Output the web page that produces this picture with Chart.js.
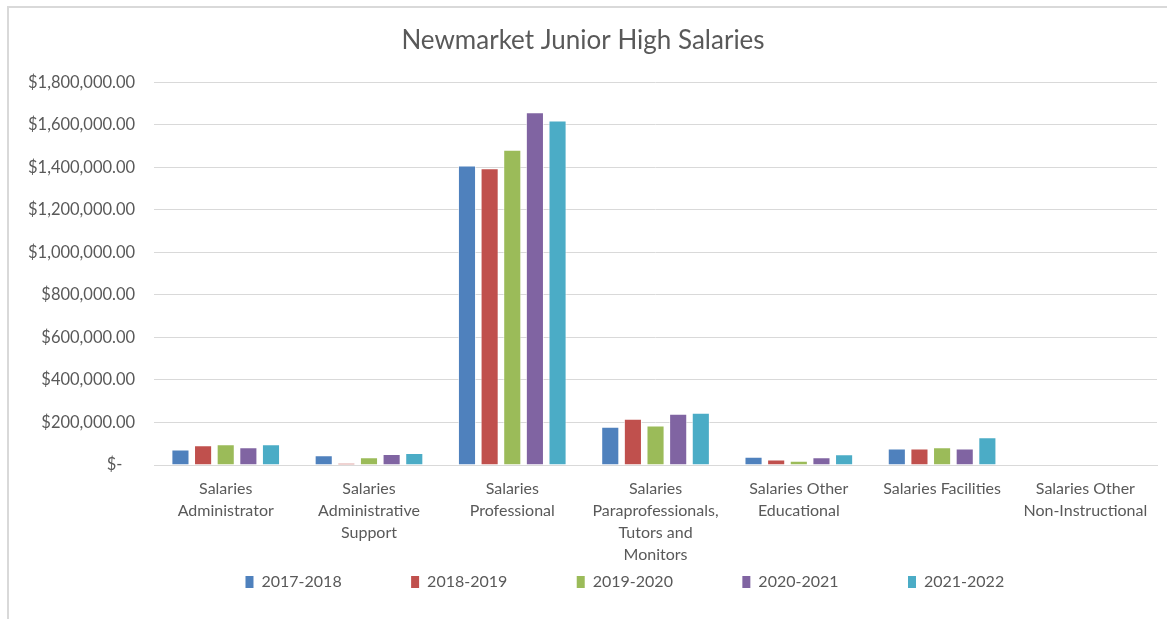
<!DOCTYPE html>
<html>
<head>
<meta charset="utf-8">
<script src="https://cdn.jsdelivr.net/npm/chart.js@4"></script>
<style>
  html, body { margin: 0; padding: 0; background: #fff; overflow: hidden; }
  #wrap { position: absolute; left: 7px; top: 6px; width: 1172px; height: 620px; border: 1px solid #d9d9d9; border-width: 2px 0 0 2px; box-sizing: border-box; }
</style>
</head>
<body>
<div id="wrap"><canvas id="salaries"></canvas></div>
<script>
// categories and series
const categories = [
  ['Salaries', 'Administrator'],
  ['Salaries', 'Administrative', 'Support'],
  ['Salaries', 'Professional'],
  ['Salaries', 'Paraprofessionals,', 'Tutors and', 'Monitors'],
  ['Salaries Other', 'Educational'],
  ['Salaries Facilities'],
  ['Salaries Other', 'Non-Instructional']
];
const years = ['2017-2018', '2018-2019', '2019-2020', '2020-2021', '2021-2022'];
const y2017 = [73000, 46000, 1408000, 180000, 39000, 78000, 0];
const y2018 = [93000, 10000, 1395000, 217000, 26000, 78000, 0];
const y2019 = [97000, 36000, 1482000, 186000, 20000, 83000, 0];
const y2020 = [83000, 52000, 1659000, 241000, 36000, 78000, 0];
const y2021 = [97000, 57000, 1620000, 246000, 50000, 130000, 0];
const colors = ['#4f81bd', '#c0504d', '#9bbb59', '#8064a2', '#4bacc6'];

const series = [y2017, y2018, y2019, y2020, y2021];
const fontFamily = 'Lato, "Open Sans", sans-serif';
// wide gaps between legend entries, without the vertical padding that labels.padding adds
const legendGap = '\u00A0'.repeat(15);

new Chart(document.getElementById('salaries'), {
  type: 'bar',
  data: {
    labels: categories,
    datasets: series.map((vals, i) => ({
      label: years[i],
      data: vals,
      backgroundColor: colors[i],
      borderColor: 'rgba(255,255,255,0.6)',
      borderWidth: 1,
      categoryPercentage: 0.79,
      barPercentage: 0.8
    }))
  },
  options: {
    responsive: true,
    maintainAspectRatio: false,
    animation: false,
    layout: { padding: { left: 0, right: 22, top: 9, bottom: 26 } },
    plugins: {
      title: {
        display: true,
        text: 'Newmarket Junior High Salaries',
        color: '#595959',
        font: { family: fontFamily, size: 26, weight: 'normal' },
        padding: { top: 8, bottom: 26 }
      },
      legend: {
        position: 'bottom',
        fullSize: false,
        labels: {
          color: '#595959',
          font: { family: fontFamily, size: 16 },
          boxWidth: 8,
          boxHeight: 12,
          padding: 8,
          generateLabels: chart => Chart.defaults.plugins.legend.labels.generateLabels(chart)
            .map(item => ({ ...item, text: item.text + legendGap, lineWidth: 0 }))
        }
      },
      tooltip: { enabled: false }
    },
    scales: {
      x: {
        grid: { display: false, drawTicks: false },
        border: { color: '#d9d9d9' },
        ticks: {
          color: '#595959',
          padding: 13,
          font: { family: fontFamily, size: 16, lineHeight: 1.375 },
          maxRotation: 0,
          autoSkip: false
        },
        afterFit: scale => { scale.height -= 13; }
      },
      y: {
        min: 0,
        max: 1800000,
        grid: { color: '#d9d9d9', drawTicks: false },
        border: { display: false },
        ticks: {
          stepSize: 200000,
          padding: 19,
          color: '#595959',
          font: { family: fontFamily, size: 16.5 },
          callback: v => v === 0 ? '$-\u00A0\u00A0\u00A0' : '$' + v.toLocaleString('en-US', { minimumFractionDigits: 2, maximumFractionDigits: 2 })
        }
      }
    }
  }
});
</script>
</body>
</html>
